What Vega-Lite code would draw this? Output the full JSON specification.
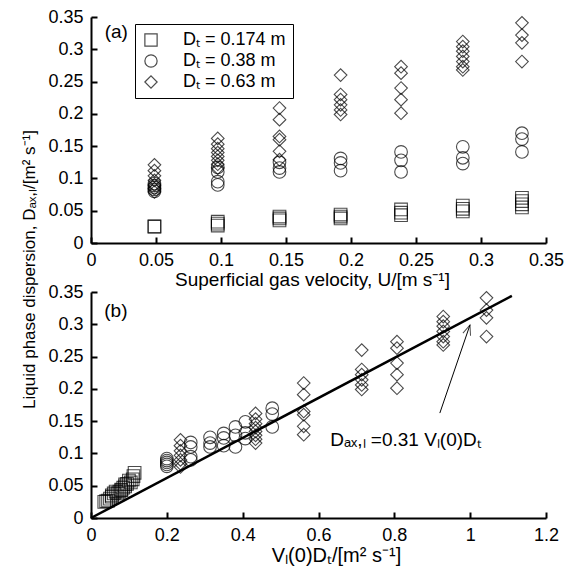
{
  "$schema": "https://vega.github.io/schema/vega-lite/v6.json",
  "background": "white",
  "padding": {"left": 20, "top": 8, "right": 10, "bottom": 5},
  "bounds": "flush",
  "spacing": 49,
  "config": {
    "font": "Liberation Sans",
    "view": {"stroke": null},
    "axis": {
      "domainColor": "black", "domainWidth": 2, "tickColor": "black", "tickWidth": 2, "tickSize": -6,
      "grid": false, "labelFont": "Liberation Sans", "labelFontSize": 18, "labelColor": "black",
      "labelOverlap": false, "labelBound": false, "labelFlush": false,
      "titleFont": "Liberation Sans", "titleFontSize": 18, "titleFontWeight": "normal", "titleColor": "black",
      "labelPadding": 14
    },
    "legend": {
      "labelFont": "Liberation Sans", "labelFontSize": 18, "labelColor": "black",
      "symbolSize": 150, "symbolStrokeWidth": 1.2, "symbolStrokeColor": "black", "symbolFillColor": "transparent",
      "rowPadding": 3, "labelOffset": 23, "padding": 7, "strokeColor": "black"
    }
  },
  "datasets": {
    "pts": [
      {"s": "Dₜ = 0.174 m", "U": 0.0488, "X": 0.035, "D": 0.025},
      {"s": "Dₜ = 0.174 m", "U": 0.0488, "X": 0.040, "D": 0.026},
      {"s": "Dₜ = 0.174 m", "U": 0.0975, "X": 0.045, "D": 0.027},
      {"s": "Dₜ = 0.174 m", "U": 0.0975, "X": 0.050, "D": 0.030},
      {"s": "Dₜ = 0.174 m", "U": 0.0975, "X": 0.055, "D": 0.033},
      {"s": "Dₜ = 0.174 m", "U": 0.145, "X": 0.055, "D": 0.035},
      {"s": "Dₜ = 0.174 m", "U": 0.145, "X": 0.060, "D": 0.038},
      {"s": "Dₜ = 0.174 m", "U": 0.145, "X": 0.065, "D": 0.041},
      {"s": "Dₜ = 0.174 m", "U": 0.192, "X": 0.070, "D": 0.038},
      {"s": "Dₜ = 0.174 m", "U": 0.192, "X": 0.075, "D": 0.041},
      {"s": "Dₜ = 0.174 m", "U": 0.192, "X": 0.080, "D": 0.044},
      {"s": "Dₜ = 0.174 m", "U": 0.2385, "X": 0.080, "D": 0.043},
      {"s": "Dₜ = 0.174 m", "U": 0.2385, "X": 0.085, "D": 0.047},
      {"s": "Dₜ = 0.174 m", "U": 0.2385, "X": 0.090, "D": 0.052},
      {"s": "Dₜ = 0.174 m", "U": 0.286, "X": 0.090, "D": 0.049},
      {"s": "Dₜ = 0.174 m", "U": 0.286, "X": 0.095, "D": 0.053},
      {"s": "Dₜ = 0.174 m", "U": 0.286, "X": 0.100, "D": 0.058},
      {"s": "Dₜ = 0.174 m", "U": 0.3315, "X": 0.105, "D": 0.055},
      {"s": "Dₜ = 0.174 m", "U": 0.3315, "X": 0.110, "D": 0.060},
      {"s": "Dₜ = 0.174 m", "U": 0.3315, "X": 0.112, "D": 0.065},
      {"s": "Dₜ = 0.174 m", "U": 0.3315, "X": 0.115, "D": 0.070},
      {"s": "Dₜ = 0.38 m", "U": 0.0488, "X": 0.200, "D": 0.080},
      {"s": "Dₜ = 0.38 m", "U": 0.0488, "X": 0.200, "D": 0.083},
      {"s": "Dₜ = 0.38 m", "U": 0.0488, "X": 0.200, "D": 0.086},
      {"s": "Dₜ = 0.38 m", "U": 0.0488, "X": 0.200, "D": 0.089},
      {"s": "Dₜ = 0.38 m", "U": 0.0488, "X": 0.200, "D": 0.092},
      {"s": "Dₜ = 0.38 m", "U": 0.0975, "X": 0.263, "D": 0.090},
      {"s": "Dₜ = 0.38 m", "U": 0.0975, "X": 0.263, "D": 0.095},
      {"s": "Dₜ = 0.38 m", "U": 0.0975, "X": 0.263, "D": 0.110},
      {"s": "Dₜ = 0.38 m", "U": 0.0975, "X": 0.263, "D": 0.117},
      {"s": "Dₜ = 0.38 m", "U": 0.145, "X": 0.314, "D": 0.110},
      {"s": "Dₜ = 0.38 m", "U": 0.145, "X": 0.314, "D": 0.116},
      {"s": "Dₜ = 0.38 m", "U": 0.145, "X": 0.314, "D": 0.125},
      {"s": "Dₜ = 0.38 m", "U": 0.192, "X": 0.350, "D": 0.112},
      {"s": "Dₜ = 0.38 m", "U": 0.192, "X": 0.350, "D": 0.124},
      {"s": "Dₜ = 0.38 m", "U": 0.192, "X": 0.350, "D": 0.131},
      {"s": "Dₜ = 0.38 m", "U": 0.2385, "X": 0.381, "D": 0.110},
      {"s": "Dₜ = 0.38 m", "U": 0.2385, "X": 0.381, "D": 0.128},
      {"s": "Dₜ = 0.38 m", "U": 0.2385, "X": 0.381, "D": 0.141},
      {"s": "Dₜ = 0.38 m", "U": 0.286, "X": 0.407, "D": 0.123},
      {"s": "Dₜ = 0.38 m", "U": 0.286, "X": 0.407, "D": 0.132},
      {"s": "Dₜ = 0.38 m", "U": 0.286, "X": 0.407, "D": 0.149},
      {"s": "Dₜ = 0.38 m", "U": 0.3315, "X": 0.478, "D": 0.141},
      {"s": "Dₜ = 0.38 m", "U": 0.3315, "X": 0.478, "D": 0.161},
      {"s": "Dₜ = 0.38 m", "U": 0.3315, "X": 0.478, "D": 0.170},
      {"s": "Dₜ = 0.63 m", "U": 0.0488, "X": 0.236, "D": 0.079},
      {"s": "Dₜ = 0.63 m", "U": 0.0488, "X": 0.236, "D": 0.084},
      {"s": "Dₜ = 0.63 m", "U": 0.0488, "X": 0.236, "D": 0.090},
      {"s": "Dₜ = 0.63 m", "U": 0.0488, "X": 0.236, "D": 0.097},
      {"s": "Dₜ = 0.63 m", "U": 0.0488, "X": 0.236, "D": 0.104},
      {"s": "Dₜ = 0.63 m", "U": 0.0488, "X": 0.236, "D": 0.112},
      {"s": "Dₜ = 0.63 m", "U": 0.0488, "X": 0.236, "D": 0.121},
      {"s": "Dₜ = 0.63 m", "U": 0.0975, "X": 0.434, "D": 0.116},
      {"s": "Dₜ = 0.63 m", "U": 0.0975, "X": 0.434, "D": 0.122},
      {"s": "Dₜ = 0.63 m", "U": 0.0975, "X": 0.434, "D": 0.128},
      {"s": "Dₜ = 0.63 m", "U": 0.0975, "X": 0.434, "D": 0.134},
      {"s": "Dₜ = 0.63 m", "U": 0.0975, "X": 0.434, "D": 0.140},
      {"s": "Dₜ = 0.63 m", "U": 0.0975, "X": 0.434, "D": 0.146},
      {"s": "Dₜ = 0.63 m", "U": 0.0975, "X": 0.434, "D": 0.153},
      {"s": "Dₜ = 0.63 m", "U": 0.0975, "X": 0.434, "D": 0.162},
      {"s": "Dₜ = 0.63 m", "U": 0.145, "X": 0.561, "D": 0.129},
      {"s": "Dₜ = 0.63 m", "U": 0.145, "X": 0.561, "D": 0.142},
      {"s": "Dₜ = 0.63 m", "U": 0.145, "X": 0.561, "D": 0.160},
      {"s": "Dₜ = 0.63 m", "U": 0.145, "X": 0.561, "D": 0.165},
      {"s": "Dₜ = 0.63 m", "U": 0.145, "X": 0.561, "D": 0.191},
      {"s": "Dₜ = 0.63 m", "U": 0.145, "X": 0.561, "D": 0.209},
      {"s": "Dₜ = 0.63 m", "U": 0.192, "X": 0.714, "D": 0.199},
      {"s": "Dₜ = 0.63 m", "U": 0.192, "X": 0.714, "D": 0.206},
      {"s": "Dₜ = 0.63 m", "U": 0.192, "X": 0.714, "D": 0.214},
      {"s": "Dₜ = 0.63 m", "U": 0.192, "X": 0.714, "D": 0.222},
      {"s": "Dₜ = 0.63 m", "U": 0.192, "X": 0.714, "D": 0.230},
      {"s": "Dₜ = 0.63 m", "U": 0.192, "X": 0.714, "D": 0.260},
      {"s": "Dₜ = 0.63 m", "U": 0.2385, "X": 0.807, "D": 0.201},
      {"s": "Dₜ = 0.63 m", "U": 0.2385, "X": 0.807, "D": 0.222},
      {"s": "Dₜ = 0.63 m", "U": 0.2385, "X": 0.807, "D": 0.240},
      {"s": "Dₜ = 0.63 m", "U": 0.2385, "X": 0.807, "D": 0.263},
      {"s": "Dₜ = 0.63 m", "U": 0.2385, "X": 0.807, "D": 0.273},
      {"s": "Dₜ = 0.63 m", "U": 0.286, "X": 0.929, "D": 0.268},
      {"s": "Dₜ = 0.63 m", "U": 0.286, "X": 0.929, "D": 0.273},
      {"s": "Dₜ = 0.63 m", "U": 0.286, "X": 0.929, "D": 0.281},
      {"s": "Dₜ = 0.63 m", "U": 0.286, "X": 0.929, "D": 0.289},
      {"s": "Dₜ = 0.63 m", "U": 0.286, "X": 0.929, "D": 0.297},
      {"s": "Dₜ = 0.63 m", "U": 0.286, "X": 0.929, "D": 0.304},
      {"s": "Dₜ = 0.63 m", "U": 0.286, "X": 0.929, "D": 0.312},
      {"s": "Dₜ = 0.63 m", "U": 0.3315, "X": 1.043, "D": 0.281},
      {"s": "Dₜ = 0.63 m", "U": 0.3315, "X": 1.043, "D": 0.310},
      {"s": "Dₜ = 0.63 m", "U": 0.3315, "X": 1.043, "D": 0.322},
      {"s": "Dₜ = 0.63 m", "U": 0.3315, "X": 1.043, "D": 0.341}
    ],
    "fit": [{"x": 0, "y": 0}, {"x": 1.11, "y": 0.344}],
    "arrow": [{"x": 0.92, "y": 0.1625, "x2": 0.9995, "y2": 0.299}],
    "labA": [{"x": 0.0105, "y": 0.326, "t": "(a)"}],
    "labB": [{"x": 0.035, "y": 0.32, "t": "(b)"}],
    "eq": [{"x": 0.631, "y": 0.111, "t": "Dₐₓ,ₗ =0.31 Vₗ(0)Dₜ"}]
  },
  "vconcat": [
    {
      "width": 455,
      "height": 226,
      "layer": [
        {
          "data": {"name": "pts"},
          "mark": {"type": "point", "filled": false, "color": "black", "strokeWidth": 1.1, "size": 160},
          "encoding": {
            "x": {"field": "U", "type": "quantitative",
              "scale": {"domain": [0, 0.35], "nice": false},
              "axis": {"values": [0, 0.05, 0.1, 0.15, 0.2, 0.25, 0.3, 0.35], "format": "~g", "labelOverlap": false,
                "title": "Superficial gas velocity, U/[m s⁻¹]", "titleFontSize": 19, "titleX": 221, "titlePadding": 1}},
            "y": {"field": "D", "type": "quantitative",
              "scale": {"domain": [0, 0.35], "nice": false},
              "axis": {"tickCount": 7, "format": "~g", "labelOverlap": false,
                "title": "Liquid phase dispersion,  Dₐₓ,ₗ/[m² s⁻¹]", "titleFontSize": 17,
                "titleX": -57, "titleY": 252, "titleBaseline": "alphabetic", "titleAlign": "center", "titleAngle": -90}},
            "shape": {"field": "s", "type": "nominal",
              "scale": {"domain": ["Dₜ = 0.174 m", "Dₜ = 0.38 m", "Dₜ = 0.63 m"], "range": ["square", "circle", "diamond"]},
              "legend": {"orient": "none", "legendX": 44, "legendY": 7, "title": null}}
          }
        },
        {
          "data": {"name": "labA"},
          "mark": {"type": "text", "align": "left", "baseline": "middle", "fontSize": 19, "color": "black"},
          "encoding": {
            "x": {"field": "x", "type": "quantitative"},
            "y": {"field": "y", "type": "quantitative"},
            "text": {"field": "t"}
          }
        }
      ]
    },
    {
      "width": 455,
      "height": 226,
      "layer": [
        {
          "data": {"name": "pts"},
          "mark": {"type": "point", "filled": false, "color": "black", "strokeWidth": 1.1, "size": 160},
          "encoding": {
            "x": {"field": "X", "type": "quantitative",
              "scale": {"domain": [0, 1.2], "nice": false},
              "axis": {"values": [0, 0.1, 0.2, 0.3, 0.4, 0.5, 0.6, 0.7, 0.8, 0.9, 1, 1.1, 1.2], "format": "~g", "labelOverlap": false,
                "labelExpr": "round(datum.value*10)%2==1 ? '' : datum.label",
                "title": "Vₗ(0)Dₜ/[m² s⁻¹]", "titleFontSize": 20, "titleX": 245, "titlePadding": 1}},
            "y": {"field": "D", "type": "quantitative",
              "scale": {"domain": [0, 0.35], "nice": false},
              "axis": {"tickCount": 7, "format": "~g", "labelOverlap": false, "title": null}},
            "shape": {"field": "s", "type": "nominal", "legend": null}
          }
        },
        {
          "data": {"name": "fit"},
          "mark": {"type": "line", "color": "black", "strokeWidth": 2.5},
          "encoding": {
            "x": {"field": "x", "type": "quantitative"},
            "y": {"field": "y", "type": "quantitative"}
          }
        },
        {
          "data": {"name": "arrow"},
          "mark": {"type": "rule", "color": "black", "strokeWidth": 1},
          "encoding": {
            "x": {"field": "x", "type": "quantitative"},
            "y": {"field": "y", "type": "quantitative"},
            "x2": {"field": "x2"},
            "y2": {"field": "y2"}
          }
        },
        {
          "data": {"name": "arrow"},
          "mark": {"type": "point", "shape": "M -0.4 1 L 0 0 L 0.4 1", "angle": 19, "size": 400, "filled": false, "color": "black", "strokeWidth": 1},
          "encoding": {
            "x": {"field": "x2", "type": "quantitative"},
            "y": {"field": "y2", "type": "quantitative"}
          }
        },
        {
          "data": {"name": "labB"},
          "mark": {"type": "text", "align": "left", "baseline": "middle", "fontSize": 19, "color": "black"},
          "encoding": {
            "x": {"field": "x", "type": "quantitative"},
            "y": {"field": "y", "type": "quantitative"},
            "text": {"field": "t"}
          }
        },
        {
          "data": {"name": "eq"},
          "mark": {"type": "text", "align": "left", "baseline": "alphabetic", "fontSize": 19, "color": "black"},
          "encoding": {
            "x": {"field": "x", "type": "quantitative"},
            "y": {"field": "y", "type": "quantitative"},
            "text": {"field": "t"}
          }
        }
      ]
    }
  ],
  "resolve": {"legend": {"shape": "independent"}}
}
